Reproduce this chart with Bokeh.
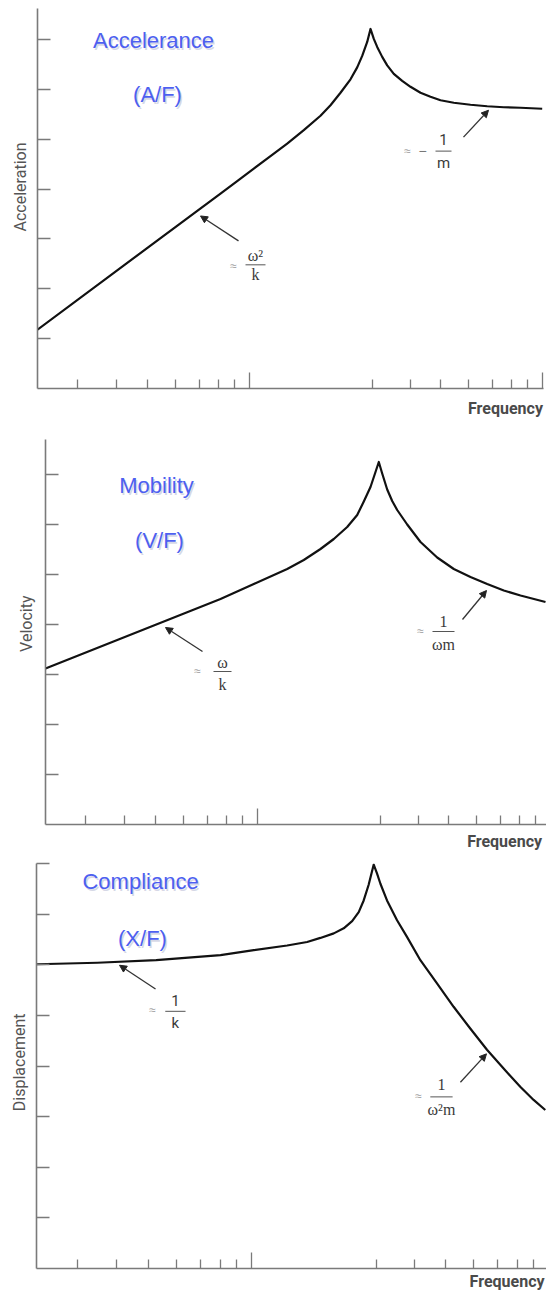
import math
from bokeh.plotting import figure
from bokeh.layouts import column
from bokeh.models import Range1d, FixedTicker, Label, Arrow, NormalHead, Title, LinearAxis
from bokeh.embed import file_html
from bokeh.resources import INLINE

# ---------------- data ----------------
# tick positions along the (unlabelled, logarithmic) frequency axis
freq_minor_ticks = [40, 79, 110, 138, 162, 181, 197, 335, 373, 403, 431, 455, 474, 490]
freq_major_ticks = [212, 505]

# Accelerance (A/F)
acc_freq = [0, 183, 199.7, 216.3, 233, 249.7, 266.3, 283, 293, 303, 313, 319.7, 324.7, 329.7, 333,
            336.3, 339.7, 344.7, 349.7, 356.3, 364.7, 373, 383, 393, 403, 416.3, 433, 449.7, 466.3, 483, 504.7]
acc_level = [1.18, 3.91, 4.16, 4.41, 4.66, 4.91, 5.18, 5.47, 5.68, 5.93, 6.20, 6.44, 6.67, 6.95, 7.21,
             7.01, 6.85, 6.65, 6.48, 6.31, 6.17, 6.05, 5.93, 5.85, 5.78, 5.73, 5.69, 5.66, 5.64, 5.63, 5.61]
acc_level_ticks = [1, 2, 3, 4, 5, 6, 7]

# Mobility (V/F)
mob_freq = [0, 175, 208.3, 241.7, 258.3, 275, 288.3, 301.7, 311.7, 318.3, 325, 330, 333.3,
            336.7, 341.7, 346.7, 351.7, 361.7, 375, 391.7, 408.3, 425, 441.7, 458.3, 475, 500]
mob_level = [3.12, 4.51, 4.81, 5.11, 5.29, 5.51, 5.71, 5.95, 6.19, 6.46, 6.75, 7.05, 7.25,
             7.02, 6.70, 6.47, 6.29, 6.00, 5.65, 5.34, 5.11, 4.95, 4.81, 4.68, 4.58, 4.45]
mob_level_ticks = [1, 2, 3, 4, 5, 6, 7]

# Compliance (X/F)
comp_freq = [0, 60, 118, 181.5, 214.3, 247.2, 266.9, 280, 293.2, 303, 311.3, 317.8, 322.7, 327.6, 332.6,
             335.9, 339.2, 345.7, 355.6, 365.4, 378.6, 395, 411.4, 427.8, 444.3, 460.7, 477.1, 490.3, 501.8]
comp_level = [6.01, 6.04, 6.09, 6.19, 6.29, 6.38, 6.45, 6.53, 6.62, 6.72, 6.86, 7.04, 7.27, 7.58, 7.98,
              7.80, 7.60, 7.27, 6.88, 6.55, 6.09, 5.63, 5.17, 4.74, 4.32, 3.95, 3.59, 3.33, 3.13]
comp_level_ticks = [1, 2, 3, 4, 5, 6, 7, 8]

# ---------------- styles / layout ----------------
AXIS_COLOR = "#7a7a7a"
TITLE_COLOR = "#4d5ff0"
LABEL_COLOR = "#555555"
NOTE_COLOR = "#3a3a3a"
APPROX_COLOR = "#a0a0a0"
SANS = "Roboto"
SERIF = "Liberation Serif"
FREQ_LABEL_AT = 468   # centre of the "Frequency" caption along the axis


def make_panel(freq, level, x_end, y_end, level_ticks, width, height, left, right, top, bottom):
    p = figure(width=width, height=height,
               x_range=Range1d(0, x_end), y_range=Range1d(0, y_end),
               output_backend="svg", toolbar_location=None,
               min_border_left=left, min_border_right=right,
               min_border_top=top, min_border_bottom=bottom)
    try:
        p.frame_align = False
    except Exception:
        pass
    p.xgrid.visible = False
    p.ygrid.visible = False
    p.outline_line_color = None
    p.xaxis.ticker = FixedTicker(ticks=freq_major_ticks, minor_ticks=freq_minor_ticks)
    p.yaxis.ticker = FixedTicker(ticks=level_ticks, minor_ticks=[])
    for ax in (p.xaxis, p.yaxis):
        ax.axis_line_color = AXIS_COLOR
        ax.axis_line_width = 1.6
        ax.major_tick_line_color = AXIS_COLOR
        ax.major_tick_line_width = 1.3
        ax.minor_tick_line_color = AXIS_COLOR
        ax.minor_tick_line_width = 1.3
        ax.major_tick_out = 0
        ax.minor_tick_out = 0
        ax.major_label_text_font_size = "1px"
        ax.major_label_text_color = None
        ax.major_label_standoff = 0
    p.xaxis.major_tick_in = 16
    p.xaxis.minor_tick_in = 9
    p.yaxis.major_tick_in = 13
    p.yaxis.minor_tick_in = 0
    p.line(freq, level, line_color="#111111", line_width=2.2, line_join="round")
    return p


def add_title(p, text, x, y):
    p.add_layout(Label(x=x, y=y, text=text, text_align="center", text_baseline="middle",
                       text_font="Liberation Sans", text_font_size="22px",
                       text_color="#8a90b8", text_alpha=0.35, x_offset=1.5, y_offset=-2))
    p.add_layout(Label(x=x, y=y, text=text, text_align="center", text_baseline="middle",
                       text_font="Liberation Sans", text_font_size="22px", text_color=TITLE_COLOR))


def add_ylabel(p, text, offset, standoff):
    p.add_layout(Title(text=text, align="right", offset=offset, vertical_align="bottom",
                       standoff=standoff, text_font=SANS, text_font_size="16px",
                       text_font_style="normal", text_color=LABEL_COLOR), "left")


def add_xlabel(p, standoff):
    lab = LinearAxis(ticker=FixedTicker(ticks=[FREQ_LABEL_AT], minor_ticks=[]),
                     major_label_overrides={FREQ_LABEL_AT: "Frequency"},
                     axis_line_color=None, major_tick_line_color=None, minor_tick_line_color=None,
                     major_tick_in=0, major_tick_out=0, minor_tick_in=0, minor_tick_out=0,
                     major_label_standoff=standoff, major_label_text_font=SANS,
                     major_label_text_font_size="16px", major_label_text_font_style="bold",
                     major_label_text_color="#4a4a4a")
    p.add_layout(lab, "below")


def add_arrow(p, x0, y0, x1, y1):
    p.add_layout(Arrow(end=NormalHead(size=7, fill_color="#222222", line_color="#222222"),
                       x_start=x0, y_start=y0, x_end=x1, y_end=y1,
                       line_color="#333333", line_width=1.3))


def add_note(p, text, x, y, font, size="16px", color=NOTE_COLOR):
    p.add_layout(Label(x=x, y=y, text=text, text_align="center", text_baseline="middle",
                       text_font=font, text_font_size=size, text_color=color))


def add_fraction(p, num, den, x, y_bar, half, y_num, y_den, font, size="16px"):
    add_note(p, num, x, y_num, font, size)
    add_note(p, den, x, y_den, font, size)
    p.segment(x0=[x - half], y0=[y_bar], x1=[x + half], y1=[y_bar],
              line_color="#555555", line_width=1)


# ---------------- panel 1 : accelerance ----------------
p1 = make_panel(acc_freq, acc_level, 506, 7.62, acc_level_ticks,
                width=546, height=420, left=37, right=3, top=8, bottom=31)
add_title(p1, "Accelerance", 116, 6.98)
add_title(p1, "(A/F)", 120, 5.90)
add_ylabel(p1, "Acceleration", 134, 15)
add_xlabel(p1, 10)
add_arrow(p1, 201, 2.96, 163, 3.46)
add_note(p1, "≈", 196, 2.46, "Liberation Sans", "12px", APPROX_COLOR)
add_fraction(p1, "ω²", "k", 218, 2.48, 10, 2.67, 2.28, SERIF)
add_arrow(p1, 426, 5.04, 451, 5.58)
add_note(p1, "≈", 370, 4.76, "Liberation Sans", "12px", APPROX_COLOR)
add_note(p1, "−", 385, 4.76, "Liberation Sans", "14px", "#777777")
add_fraction(p1, "1", "m", 406, 4.76, 8, 4.99, 4.52, SANS, "15px")

# ---------------- panel 2 : mobility ----------------
p2 = make_panel(mob_freq, mob_level, 501, 7.70, mob_level_ticks,
                width=546, height=433, left=45, right=0, top=19, bottom=29)
add_title(p2, "Mobility", 111, 6.78)
add_title(p2, "(V/F)", 114, 5.68)
add_ylabel(p2, "Velocity", 156, 19)
add_xlabel(p2, 7)
add_arrow(p2, 157, 3.46, 120, 3.94)
add_note(p2, "≈", 152, 3.08, "Liberation Sans", "12px", APPROX_COLOR)
add_fraction(p2, "ω", "k", 177, 3.06, 9, 3.25, 2.80, SERIF)
add_arrow(p2, 417, 4.10, 441, 4.68)
add_note(p2, "≈", 375, 3.88, "Liberation Sans", "12px", APPROX_COLOR)
add_fraction(p2, "1", "ωm", 398, 3.86, 11, 4.06, 3.60, SERIF)

# ---------------- panel 3 : compliance ----------------
p3 = make_panel(comp_freq, comp_level, 503, 8.0, comp_level_ticks,
                width=546, height=440, left=36, right=0, top=10, bottom=24)
add_title(p3, "Compliance", 102.6, 7.65)
add_title(p3, "(X/F)", 104.5, 6.52)
add_ylabel(p3, "Displacement", 150, 15)
add_xlabel(p3, 3)
add_arrow(p3, 117.4, 5.52, 81.9, 5.99)
add_note(p3, "≈", 114.4, 5.10, "Liberation Sans", "12px", APPROX_COLOR)
add_fraction(p3, "1", "k", 137, 5.08, 10, 5.29, 4.85, SANS, "15px")
add_arrow(p3, 418.1, 3.68, 443.8, 4.24)
add_note(p3, "≈", 376.7, 3.41, "Liberation Sans", "12px", APPROX_COLOR)
add_fraction(p3, "1", "ω²m", 399.4, 3.39, 11, 3.63, 3.15, SERIF)

layout = column(p1, p2, p3, spacing=0)
open("out.html", "w").write(file_html(layout, INLINE))
